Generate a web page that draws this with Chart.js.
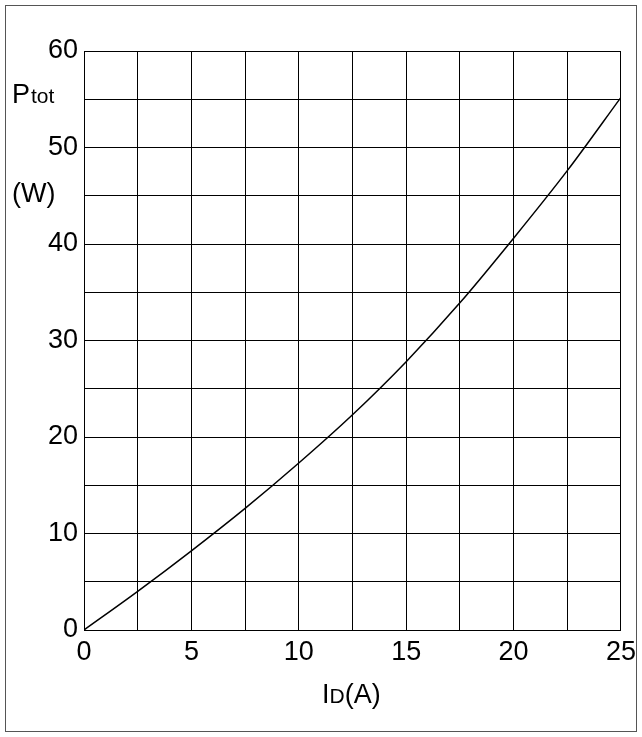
<!DOCTYPE html>
<html><head><meta charset="utf-8">
<script src="https://cdn.jsdelivr.net/npm/chart.js@4/dist/chart.umd.min.js"></script>
<style>html,body{margin:0;padding:0;background:#fff}#wrap{width:642px;height:737px}</style>
</head><body><div id="wrap"><canvas id="c"></canvas></div>
<script>
const currentA = [0, 2.5, 5, 7.5, 10, 12.5, 15, 17.5, 20, 22.5, 25];
const powerW = [0, 4.0, 8.2, 12.6, 17.3, 22.3, 27.8, 33.9, 40.6, 47.6, 55.2];
const FONT = 'Liberation Sans, Arial, sans-serif';

const labels = {
  id: 'labels',
  afterDraw(chart) {
    const ctx = chart.ctx;
    ctx.save();
    ctx.strokeStyle = '#555';
    ctx.lineWidth = 1;
    ctx.strokeRect(5.5, 5.5, 631, 726);
    ctx.fillStyle = '#000';
    ctx.textBaseline = 'alphabetic';
    ctx.textAlign = 'left';
    ctx.font = '27px ' + FONT;
    ctx.fillText('P', 12, 103);
    ctx.font = '21px ' + FONT;
    ctx.fillText('tot', 31, 103);
    ctx.font = '27px ' + FONT;
    ctx.fillText('(W)', 12, 202);
    let x = 322;
    ctx.fillText('I', x, 703); x += ctx.measureText('I').width;
    ctx.font = '21px ' + FONT;
    ctx.fillText('D', x, 703); x += ctx.measureText('D').width;
    ctx.font = '27px ' + FONT;
    ctx.fillText('(A)', x, 703);
    ctx.restore();
  }
};

new Chart(document.getElementById('c'), {
  type: 'scatter',
  data: {
    datasets: [{
      data: currentA.map((v, i) => ({ x: v, y: powerW[i] })),
      showLine: true, borderColor: '#000', borderWidth: 1.5,
      pointRadius: 0, tension: 0.4, cubicInterpolationMode: 'monotone', fill: false
    }]
  },
  options: {
    responsive: true, maintainAspectRatio: false, animation: false,
    layout: { padding: { top: 51, right: 13, left: 0, bottom: 0 } },
    plugins: { legend: { display: false }, tooltip: { enabled: false } },
    scales: {
      x: {
        type: 'linear', min: 0, max: 25,
        afterFit: s => { s.height = 107; },
        ticks: { stepSize: 2.5, color: '#000', font: { size: 27, family: FONT }, padding: 6, maxRotation: 0,
          callback: v => (v % 5 === 0 ? v : '') },
        grid: { color: '#000', lineWidth: 1, drawTicks: false },
        border: { color: '#000', width: 1 }
      },
      y: {
        type: 'linear', min: 0, max: 60,
        afterFit: s => { s.width = 84; },
        ticks: { stepSize: 5, color: '#000', font: { size: 27, family: FONT }, padding: 6,
          callback: v => (v % 10 === 0 ? v : '') },
        grid: { color: '#000', lineWidth: 1, drawTicks: false },
        border: { color: '#000', width: 1 }
      }
    }
  },
  plugins: [labels]
});
</script></body></html>
